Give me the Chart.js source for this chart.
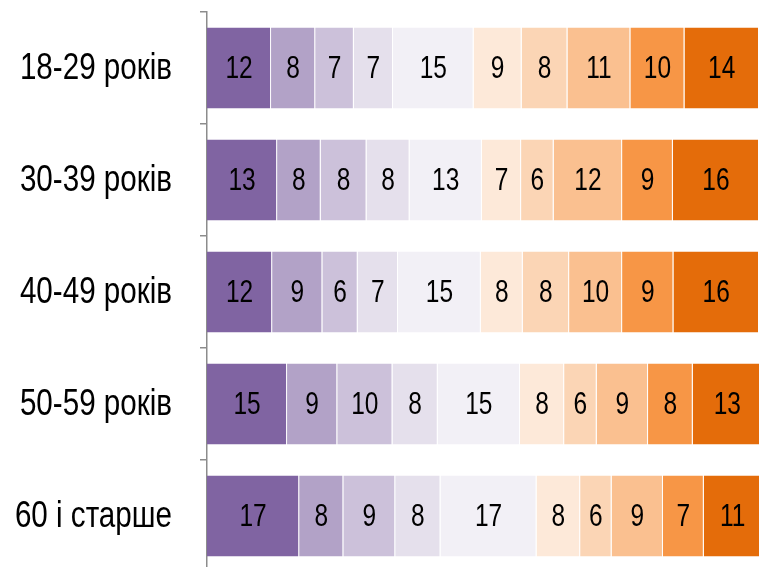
<!DOCTYPE html>
<html>
<head>
<meta charset="utf-8">
<script src="https://cdn.jsdelivr.net/npm/chart.js@4/dist/chart.umd.min.js"></script>
<style>
  html, body { margin: 0; padding: 0; background: #fff; overflow: hidden; }
  #wrap { position: relative; width: 759px; height: 572px; }
</style>
</head>
<body>
<div id="wrap"><canvas id="chart"></canvas></div>
<script>
const ageGroups = ["18-29 років", "30-39 років", "40-49 років", "50-59 років", "60 і старше"];

// one array per answer level, one value per age group (percent)
const level1 = [11.6, 12.7, 11.8, 14.5, 16.7];
const level2 = [8.0, 7.9, 9.1, 9.1, 8.0];
const level3 = [7.0, 8.3, 6.4, 10.0, 9.4];
const level4 = [7.1, 7.8, 7.3, 8.2, 8.2];
const level5 = [14.6, 13.1, 15.0, 14.9, 17.4];
const level6 = [8.7, 7.1, 7.6, 8.0, 7.9];
const level7 = [8.3, 5.9, 8.4, 5.9, 5.7];
const level8 = [11.4, 12.4, 9.6, 9.3, 9.3];
const level9 = [9.8, 9.2, 9.3, 8.1, 7.4];
const level10 = [13.5, 15.6, 15.5, 12.5, 10.5];

const levels = [level1, level2, level3, level4, level5, level6, level7, level8, level9, level10];
const colors = ["#8064A2", "#B2A2C7", "#CCC1DA", "#E5E0EC", "#F2F0F6",
                "#FDE9D9", "#FBD5B5", "#FAC090", "#F79646", "#E46C0A"];

const narrowFont = "'Liberation Sans', Arial, sans-serif";

// value labels inside each segment
const segmentLabels = {
    id: "segmentLabels",
    afterDatasetsDraw(chart) {
        const ctx = chart.ctx;
        ctx.save();
        ctx.fillStyle = "#000";
        ctx.font = "31px " + narrowFont;
        ctx.textAlign = "center";
        ctx.textBaseline = "middle";
        chart.data.datasets.forEach((ds, di) => {
            chart.getDatasetMeta(di).data.forEach((bar, i) => {
                const p = bar.getProps(["x", "y", "base"], true);
                const cx = (p.x + p.base) / 2;
                ctx.save();
                ctx.translate(cx, p.y + 1);
                ctx.scale(0.79, 1);
                ctx.fillText(String(Math.round(ds.data[i])), 0, 0);
                ctx.restore();
            });
        });
        ctx.restore();
    }
};

// category names on the left, condensed
const categoryLabels = {
    id: "categoryLabels",
    afterDraw(chart) {
        const ctx = chart.ctx;
        const yScale = chart.scales.y;
        ctx.save();
        ctx.fillStyle = "#000";
        ctx.font = "37px " + narrowFont;
        ctx.textAlign = "right";
        ctx.textBaseline = "middle";
        ageGroups.forEach((label, i) => {
            ctx.save();
            ctx.translate(172, yScale.getPixelForValue(i) + 1);
            ctx.scale(0.8, 1);
            ctx.fillText(label, 0, 0);
            ctx.restore();
        });
        ctx.restore();
    }
};

new Chart(document.getElementById("chart").getContext("2d"), {
    type: "bar",
    data: {
        labels: ageGroups,
        datasets: levels.map((vals, i) => ({
            label: "Рівень " + (i + 1),
            data: vals,
            backgroundColor: colors[i],
            borderColor: "rgba(255,255,255,0.4)",
            borderWidth: { top: 0, bottom: 0, left: 0, right: 1 },
            borderSkipped: false,
            barPercentage: 0.725,
            categoryPercentage: 1
        }))
    },
    options: {
        indexAxis: "y",
        responsive: true,
        maintainAspectRatio: false,
        animation: false,
        layout: { padding: { top: 12, left: 0, right: 0, bottom: 0 } },
        plugins: {
            legend: { display: false },
            tooltip: { enabled: false }
        },
        scales: {
            x: {
                stacked: true,
                display: false,
                min: 0,
                max: 100
            },
            y: {
                stacked: true,
                ticks: { display: false },
                grid: {
                    drawOnChartArea: false,
                    drawTicks: true,
                    tickLength: 7,
                    color: "#8c8c8c",
                    lineWidth: 1.5
                },
                border: { display: true, color: "#8c8c8c", width: 1.5 },
                afterFit(scale) { scale.width = 207; }
            }
        }
    },
    plugins: [segmentLabels, categoryLabels]
});
</script>
</body>
</html>
